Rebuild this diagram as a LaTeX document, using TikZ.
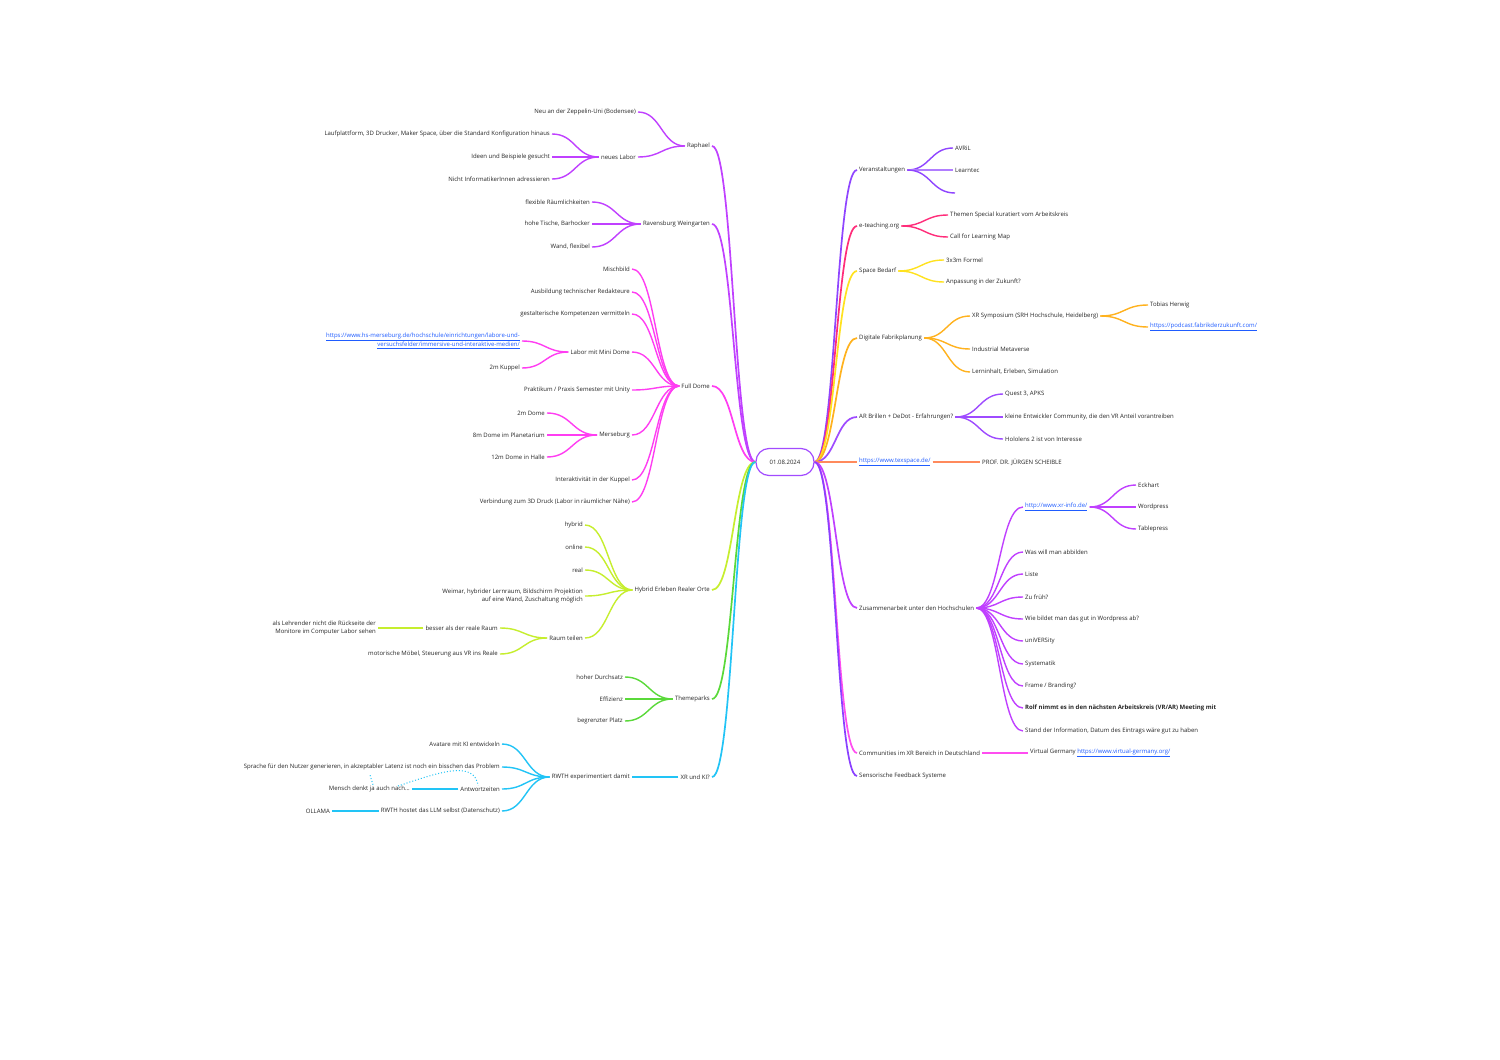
\documentclass[tikz,border=0pt]{standalone}
\usepackage{fontspec}
\setmainfont{Open Sans}
\usetikzlibrary{calc}
\definecolor{cRoot}{HTML}{A24BFF}
\definecolor{cRaph}{HTML}{C040FF}
\definecolor{cDome}{HTML}{FF3DF2}
\definecolor{cHyb}{HTML}{C6EE2E}
\definecolor{cTheme}{HTML}{5AD93A}
\definecolor{cXR}{HTML}{22C4F6}
\definecolor{cVer}{HTML}{8F45FF}
\definecolor{cEtea}{HTML}{FF2D7A}
\definecolor{cSpace}{HTML}{FFE21F}
\definecolor{cFab}{HTML}{FFB21E}
\definecolor{cAR}{HTML}{9E4BFF}
\definecolor{cTex}{HTML}{FF8A5C}
\definecolor{cZus}{HTML}{C040FF}
\definecolor{cCom}{HTML}{FF4DF0}
\definecolor{cSens}{HTML}{8A40FF}
\definecolor{cLink}{HTML}{1F5CFF}
\newcommand\lnk[1]{\textcolor{cLink}{\underline{#1}}}
\tikzset{
  txt/.style={font=\fontsize{6}{7.2}\selectfont, inner xsep=2pt, inner ysep=1pt, text=black!85},
  L/.style={txt, anchor=east, align=right},
  R/.style={txt, anchor=west, align=left},
  br/.style={line width=1.7pt},
  sb/.style={line width=1.4pt},
  rel/.style={cXR, dotted, line width=1pt},
  mm/.style={to path={let \p1=(\tikztostart), \p2=(\tikztotarget) in
     .. controls ({0.5*\x1+0.5*\x2},\y1) and ({0.5*\x1+0.5*\x2},\y2) .. (\tikztotarget)}}
}
\begin{document}
\begin{tikzpicture}[x=1pt,y=-1pt]
\useasboundingbox[fill=white] (0,0) rectangle (1500,1060);

% root
\node[txt, draw=cRoot, line width=1.2pt, rounded corners=13pt, minimum width=58pt, minimum height=27pt] (root) at (785,462) {01.08.2024};

% ================= LEFT =================
% Raphael
\node[L] (raph) at (712,146) {Raphael};
\node[L] (zepp) at (638,112) {Neu an der Zeppelin-Uni (Bodensee)};
\node[L] (labor) at (638,157) {neues Labor};
\node[L] (lauf) at (552,134) {Laufplattform, 3D Drucker, Maker Space, über die Standard Konfiguration hinaus};
\node[L] (ideen) at (552,157) {Ideen und Beispiele gesucht};
\node[L] (nicht) at (552,179) {Nicht InformatikerInnen adressieren};
\draw[cRaph,br] (root.west) to[mm] (raph.east);
\draw[cRaph,sb] (raph.west) to[mm] (zepp.east);
\draw[cRaph,sb] (raph.west) to[mm] (labor.east);
\draw[cRaph,sb] (labor.west) to[mm] (lauf.east);
\draw[cRaph,sb] (labor.west) -- (ideen.east);
\draw[cRaph,sb] (labor.west) to[mm] (nicht.east);

% Ravensburg
\node[L] (rav) at (712,224) {Ravensburg Weingarten};
\node[L] (flex) at (592,202) {flexible Räumlichkeiten};
\node[L] (hohe) at (592,224) {hohe Tische, Barhocker};
\node[L] (wand) at (592,247) {Wand, flexibel};
\draw[cRaph,br] (root.west) to[mm] (rav.east);
\draw[cRaph,sb] (rav.west) to[mm] (flex.east);
\draw[cRaph,sb] (rav.west) -- (hohe.east);
\draw[cRaph,sb] (rav.west) to[mm] (wand.east);

% Full Dome
\node[L] (dome) at (712,386) {Full Dome};
\node[L] (misch) at (632,269) {Mischbild};
\node[L] (ausb) at (632,292) {Ausbildung technischer Redakteure};
\node[L] (gest) at (632,314) {gestalterische Kompetenzen vermitteln};
\node[L] (mini) at (632,352) {Labor mit Mini Dome};
\node[L] (merlink) at (522,341) {\lnk{https://www.hs-merseburg.de/hochschule/einrichtungen/labore-und-}\\\lnk{versuchsfelder/immersive-und-interaktive-medien/}};
\node[L] (kuppel) at (522,368) {2m Kuppel};
\node[L] (prak) at (632,390) {Praktikum / Praxis Semester mit Unity};
\node[L] (mers) at (632,435) {Merseburg};
\node[L] (d2) at (547,413) {2m Dome};
\node[L] (d8) at (547,435) {8m Dome im Planetarium};
\node[L] (d12) at (547,457) {12m Dome in Halle};
\node[L] (inter) at (632,480) {Interaktivität in der Kuppel};
\node[L] (verb) at (632,502) {Verbindung zum 3D Druck (Labor in räumlicher Nähe)};
\draw[cDome,br] (root.west) to[mm] (dome.east);
\foreach \k in {misch,ausb,gest,mini,prak,mers,inter,verb}
  \draw[cDome,sb] (dome.west) to[mm] (\k.east);
\draw[cDome,sb] (mini.west) to[mm] (merlink.east);
\draw[cDome,sb] (mini.west) to[mm] (kuppel.east);
\draw[cDome,sb] (mers.west) to[mm] (d2.east);
\draw[cDome,sb] (mers.west) -- (d8.east);
\draw[cDome,sb] (mers.west) to[mm] (d12.east);

% Hybrid
\node[L] (hyb) at (712,590) {Hybrid Erleben Realer Orte};
\node[L] (hybrid) at (585,525) {hybrid};
\node[L] (online) at (585,547) {online};
\node[L] (real) at (585,570) {real};
\node[L] (weimar) at (585,596) {Weimar, hybrider Lernraum, Bildschirm Projektion\\auf eine Wand, Zuschaltung möglich};
\node[L] (raum) at (585,638) {Raum teilen};
\node[L] (besser) at (500,628) {besser als der reale Raum};
\node[L] (lehr) at (378,628) {als Lehrender nicht die Rückseite der\\Monitore im Computer Labor sehen};
\node[L] (motor) at (500,654) {motorische Möbel, Steuerung aus VR ins Reale};
\draw[cHyb,br] (root.west) to[mm] (hyb.east);
\foreach \k in {hybrid,online,real,weimar,raum}
  \draw[cHyb,sb] (hyb.west) to[mm] (\k.east);
\draw[cHyb,sb] (raum.west) to[mm] (besser.east);
\draw[cHyb,sb] (raum.west) to[mm] (motor.east);
\draw[cHyb,sb] (besser.west) -- (lehr.east);

% Themeparks
\node[L] (theme) at (712,699) {Themeparks};
\node[L] (durch) at (625,677) {hoher Durchsatz};
\node[L] (eff) at (625,699) {Effizienz};
\node[L] (platz) at (625,721) {begrenzter Platz};
\draw[cTheme,br] (root.west) to[mm] (theme.east);
\draw[cTheme,sb] (theme.west) to[mm] (durch.east);
\draw[cTheme,sb] (theme.west) -- (eff.east);
\draw[cTheme,sb] (theme.west) to[mm] (platz.east);

% XR und KI
\node[L] (xrki) at (712,777) {XR und KI?};
\node[L] (rwth) at (632,777) {RWTH experimentiert damit};
\node[L] (avat) at (502,744) {Avatare mit KI entwickeln};
\node[L] (spra) at (502,767) {Sprache für den Nutzer generieren, in akzeptabler Latenz ist noch ein bisschen das Problem};
\node[L] (antw) at (502,789) {Antwortzeiten};
\node[L] (mensch) at (412,789) {Mensch denkt ja auch nach...};
\node[L] (host) at (502,811) {RWTH hostet das LLM selbst (Datenschutz)};
\node[L] (olla) at (332,811) {OLLAMA};
\draw[cXR,br] (root.west) to[mm] (xrki.east);
\draw[cXR,sb] (xrki.west) -- (rwth.east);
\foreach \k in {avat,spra,antw,host}
  \draw[cXR,sb] (rwth.west) to[mm] (\k.east);
\draw[cXR,sb] (antw.west) -- (mensch.east);
\draw[cXR,sb] (host.west) -- (olla.east);
\coordinate (relA) at (370,775);
\coordinate (relB) at (398,786);
\draw[rel] (mensch.north -| relA) ++(3,0) -- (relA);
\draw[rel] (relB) .. controls (440,772) and (474,760) .. ([xshift=-2pt]antw.north);

% ================= RIGHT =================
% Veranstaltungen
\node[R] (veran) at (857,170) {Veranstaltungen};
\node[R] (avril) at (953,148) {AVRiL};
\node[R] (learn) at (953,170) {Learntec};
\coordinate (vempty) at (955,193);
\draw[cVer,br] (root.east) to[mm] (veran.west);
\draw[cVer,sb] (veran.east) to[mm] (avril.west);
\draw[cVer!70,sb] (veran.east) -- (learn.west);
\draw[cVer,sb] (veran.east) to[mm] (vempty);

% e-teaching
\node[R] (etea) at (857,226) {e-teaching.org};
\node[R] (themen) at (948,215) {Themen Special kuratiert vom Arbeitskreis};
\node[R] (call) at (948,237) {Call for Learning Map};
\draw[cEtea,br] (root.east) to[mm] (etea.west);
\draw[cEtea,sb] (etea.east) to[mm] (themen.west);
\draw[cEtea,sb] (etea.east) to[mm] (call.west);

% Space Bedarf
\node[R] (space) at (857,271) {Space Bedarf};
\node[R] (formel) at (944,260) {3x3m Formel};
\node[R] (anp) at (944,282) {Anpassung in der Zukunft?};
\draw[cSpace,br] (root.east) to[mm] (space.west);
\draw[cSpace,sb] (space.east) to[mm] (formel.west);
\draw[cSpace,sb] (space.east) to[mm] (anp.west);

% Digitale Fabrikplanung
\node[R] (fab) at (857,338) {Digitale Fabrikplanung};
\node[R] (xrsym) at (970,316) {XR Symposium (SRH Hochschule, Heidelberg)};
\node[R] (tobias) at (1148,305) {Tobias Herwig};
\node[R] (podcast) at (1148,327) {\lnk{https://podcast.fabrikderzukunft.com/}};
\node[R] (indus) at (970,349) {Industrial Metaverse};
\node[R] (lern) at (970,372) {Lerninhalt, Erleben, Simulation};
\draw[cFab,br] (root.east) to[mm] (fab.west);
\draw[cFab,sb] (fab.east) to[mm] (xrsym.west);
\draw[cFab,sb] (fab.east) to[mm] (indus.west);
\draw[cFab,sb] (fab.east) to[mm] (lern.west);
\draw[cFab,sb] (xrsym.east) to[mm] (tobias.west);
\draw[cFab,sb] (xrsym.east) to[mm] (podcast.west);

% AR Brillen
\node[R] (ar) at (857,417) {AR Brillen + DeDot - Erfahrungen?};
\node[R] (quest) at (1003,394) {Quest 3, APKS};
\node[R] (klein) at (1003,417) {kleine Entwickler Community, die den VR Anteil vorantreiben};
\node[R] (holo) at (1003,439) {Hololens 2 ist von Interesse};
\draw[cAR,br] (root.east) to[mm] (ar.west);
\draw[cAR,sb] (ar.east) to[mm] (quest.west);
\draw[cAR,sb] (ar.east) -- (klein.west);
\draw[cAR,sb] (ar.east) to[mm] (holo.west);

% texspace
\node[R] (tex) at (857,462) {\lnk{https://www.texspace.de/}};
\node[R] (prof) at (980,462) {PROF. DR. JÜRGEN SCHEIBLE};
\draw[cTex,br] (root.east) -- (tex.west);
\draw[cTex,sb] (tex.east) -- (prof.west);

% Zusammenarbeit
\node[R] (zus) at (857,608) {Zusammenarbeit unter den Hochschulen};
\node[R] (xrinfo) at (1023,507) {\lnk{http://www.xr-info.de/}};
\node[R] (eck) at (1136,485) {Eckhart};
\node[R] (wp) at (1136,507) {Wordpress};
\node[R] (tp) at (1136,529) {Tablepress};
\node[R] (was) at (1023,552) {Was will man abbilden};
\node[R] (liste) at (1023,574) {Liste};
\node[R] (zufr) at (1023,597) {Zu früh?};
\node[R] (wie) at (1023,619) {Wie bildet man das gut in Wordpress ab?};
\node[R] (uni) at (1023,641) {uniVERSity};
\node[R] (sys) at (1023,664) {Systematik};
\node[R] (frame) at (1023,686) {Frame / Branding?};
\node[R] (rolf) at (1023,708) {\textbf{Rolf nimmt es in den nächsten Arbeitskreis (VR/AR) Meeting mit}};
\node[R] (stand) at (1023,731) {Stand der Information, Datum des Eintrags wäre gut zu haben};
\draw[cZus,br] (root.east) to[mm] (zus.west);
\foreach \k in {xrinfo,was,liste,zufr,wie,uni,sys,frame,rolf,stand}
  \draw[cZus,sb] (zus.east) to[mm] (\k.west);
\draw[cZus,sb] (xrinfo.east) to[mm] (eck.west);
\draw[cZus,sb] (xrinfo.east) -- (wp.west);
\draw[cZus,sb] (xrinfo.east) to[mm] (tp.west);

% Communities
\node[R] (com) at (857,753) {Communities im XR Bereich in Deutschland};
\node[R] (vg) at (1028,753) {Virtual Germany \lnk{https://www.virtual-germany.org/}};
\draw[cCom,br] (root.east) to[mm] (com.west);
\draw[cCom,sb] (com.east) -- (vg.west);

% Sensorische
\node[R] (sens) at (857,776) {Sensorische Feedback Systeme};
\draw[cSens,br] (root.east) to[mm] (sens.west);
\end{tikzpicture}
\end{document}
